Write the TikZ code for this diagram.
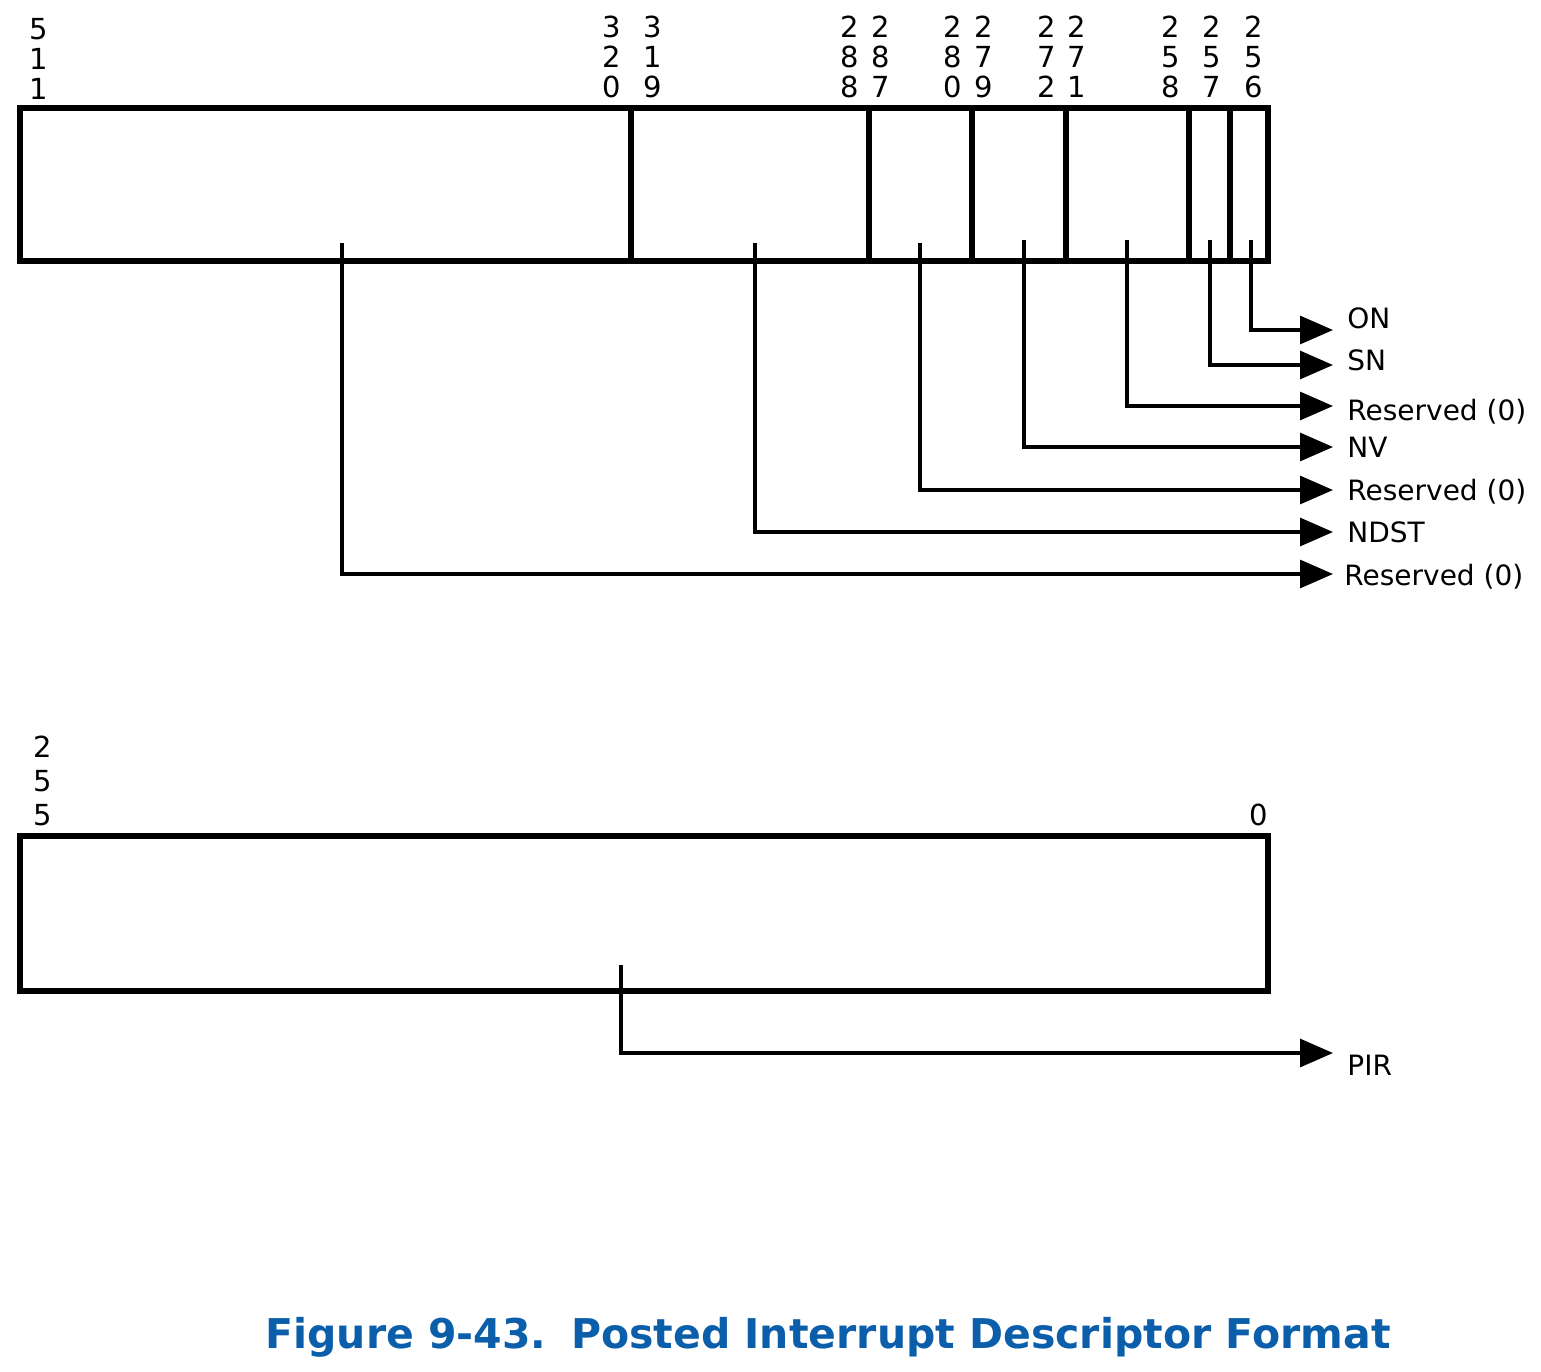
\documentclass[tikz,border=0pt]{standalone}
\usepackage{fontspec}
\setmainfont{DejaVu Sans}
\usetikzlibrary{arrows.meta}
\definecolor{figblue}{RGB}{10,94,170}
\tikzstyle{line} = [draw, line width=1.6pt, -{Triangle[length=16.5pt,width=14pt]}]
\tikzstyle{field} = [rectangle, draw=black, line width=2.6pt, inner sep=0pt,
     minimum height=76.5pt]
\tikzstyle{bitnum} = [anchor=south, align=center, inner sep=0pt,
     font=\fontsize{14.5}{15}\selectfont]
\tikzstyle{bitnumlow} = [anchor=south, align=center, inner sep=0pt,
     font=\fontsize{14.5}{17}\selectfont]
\tikzstyle{lbl} = [anchor=base west, inner sep=0pt, font=\fontsize{14}{16}\selectfont]
\tikzstyle{caption} = [anchor=base west, inner sep=0pt, text=figblue,
     font=\fontsize{20.5}{24}\selectfont\bfseries]

\begin{document}
\begin{tikzpicture}[x=0.5pt,y=-0.5pt]
\useasboundingbox (0,0) rectangle (1541,1371);

% upper descriptor, bits 511..256
\node (f511) [field, minimum width=305.5pt] at (325.5,184.5) {};
\node (f319) [field, minimum width=119pt] at (750,184.5) {};
\node (f287) [field, minimum width=51.5pt] at (920.5,184.5) {};
\node (f279) [field, minimum width=47pt] at (1019,184.5) {};
\node (f271) [field, minimum width=61.5pt] at (1127.5,184.5) {};
\node (f257) [field, minimum width=20.5pt] at (1209.5,184.5) {};
\node (f256) [field, minimum width=19pt] at (1249,184.5) {};

\node (b511) [bitnum] at (39,100) {5\\1\\1};
\node (b320) [bitnum] at (612,98) {3\\2\\0};
\node (b319) [bitnum] at (653,98) {3\\1\\9};
\node (b288) [bitnum] at (850,98) {2\\8\\8};
\node (b287) [bitnum] at (881,98) {2\\8\\7};
\node (b280) [bitnum] at (953,98) {2\\8\\0};
\node (b279) [bitnum] at (984,98) {2\\7\\9};
\node (b272) [bitnum] at (1047,98) {2\\7\\2};
\node (b271) [bitnum] at (1077,98) {2\\7\\1};
\node (b258) [bitnum] at (1171,98) {2\\5\\8};
\node (b257) [bitnum] at (1212,98) {2\\5\\7};
\node (b256) [bitnum] at (1254,98) {2\\5\\6};

\coordinate (s511) at (342,243);
\coordinate (s319) at (755,243);
\coordinate (s287) at (920,243);
\coordinate (s279) at (1024,240);
\coordinate (s271) at (1127,240);
\coordinate (s257) at (1210,240);
\coordinate (s256) at (1251,240);

\coordinate (eon) at (1333,330);
\coordinate (esn) at (1333,365);
\coordinate (ers1) at (1333,406);
\coordinate (env) at (1333,447);
\coordinate (ers2) at (1333,490);
\coordinate (endst) at (1333,532);
\coordinate (ers3) at (1333,574);

\path [line] (s256) |- (eon);
\path [line] (s257) |- (esn);
\path [line] (s271) |- (ers1);
\path [line] (s279) |- (env);
\path [line] (s287) |- (ers2);
\path [line] (s319) |- (endst);
\path [line] (s511) |- (ers3);

\node (on) [lbl] at (1347,328) {ON};
\node (sn) [lbl] at (1347,370) {SN};
\node (rs1) [lbl] at (1347,420) {Reserved (0)};
\node (nv) [lbl] at (1347,457) {NV};
\node (rs2) [lbl] at (1347,500) {Reserved (0)};
\node (ndst) [lbl] at (1347,542) {NDST};
\node (rs3) [lbl] at (1344,585) {Reserved (0)};

% lower descriptor, bits 255..0
\node (f255) [field, minimum width=624pt, minimum height=77.5pt] at (644,913.5) {};
\node (b255) [bitnumlow] at (43,826) {2\\5\\5};
\node (b0) [bitnumlow] at (1259,826) {0};

\coordinate (s255) at (621,965);
\coordinate (epir) at (1333,1053);
\path [line] (s255) |- (epir);
\node (pir) [lbl] at (1347,1075) {PIR};

\node (title) [caption] at (265,1348) {Figure 9-43.\hspace{0.6em}Posted Interrupt Descriptor Format};

\end{tikzpicture}
\end{document}
